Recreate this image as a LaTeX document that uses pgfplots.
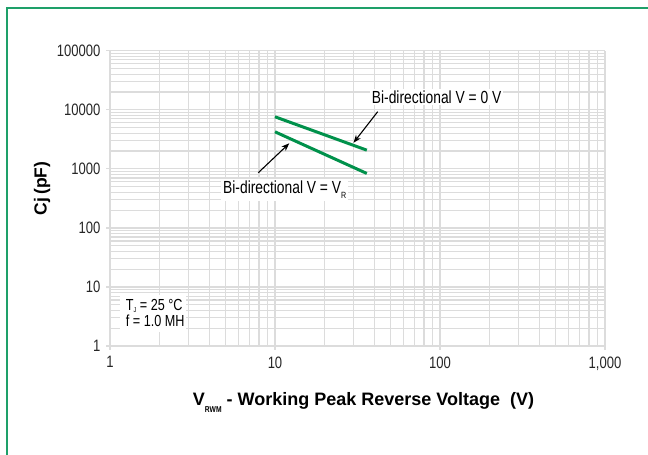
\documentclass[border=0pt]{standalone}
\usepackage{pgfplots}
\pgfplotsset{compat=1.18}
\usepackage{fontspec}
\setmainfont{Liberation Sans}
\newfontfamily\condfont[FakeStretch=0.79]{Liberation Sans}
\usetikzlibrary{arrows.meta}
\definecolor{framegreen}{RGB}{30,160,105}
\definecolor{linegreen}{RGB}{0,145,75}
\definecolor{gridgray}{RGB}{220,220,220}
\begin{document}
\begin{tikzpicture}[x=1pt,y=1pt]
\useasboundingbox (0,0) rectangle (648,455);
\clip (0,0) rectangle (648,455);
\fill[white] (0,0) rectangle (648,455);
\draw[framegreen, line width=2pt] (6.5,446.5) rectangle (720,-60);
\begin{axis}[
  at={(110pt,109pt)}, anchor=south west, scale only axis,
  width=495pt, height=295.3pt,
  xmode=log, ymode=log,
  xmin=1, xmax=1000, ymin=1, ymax=100000,
  xtick={1,10,100,1000}, xticklabels={1,10,100,{1,000}},
  ytick={1,10,100,1000,10000,100000}, yticklabels={1,10,100,1000,10000,100000},
  grid=both,
  major grid style={draw=gridgray, line width=1.3pt},
  minor grid style={draw=gridgray, line width=1.1pt},
  axis line style={draw=none},
  tick align=outside, major tick length=4pt, minor tick length=0pt,
  tick style={draw=gridgray, line width=1.3pt},
  xtick pos=bottom, ytick pos=left,
  ticklabel style={font=\condfont\fontsize{16.5}{17}\selectfont, text=black!85},
  xticklabel style={yshift=-3pt},
  yticklabel style={xshift=-2pt},
]
\addplot[linegreen, line width=3pt] coordinates {(10,7600) (36,2070)};
\addplot[linegreen, line width=3pt] coordinates {(10,4230) (36,835)};
\end{axis}
% axis labels
\node[rotate=90, font=\bfseries\fontsize{17.5}{18}\selectfont] at (42,266.5) {Cj\,(pF)};
\node[anchor=base, font=\bfseries\fontsize{18}{20}\selectfont] at (363.5,49) {V\raisebox{-7pt}{\condfont\fontsize{8.5}{9}\selectfont RWM} - Working Peak Reverse Voltage\ \ (V)};
% annotations
\node[anchor=base west, fill=white, inner sep=2pt, font=\condfont\fontsize{17.5}{18}\selectfont] at (369.7,351.7) {Bi-directional V = 0 V};
\node[anchor=base west, fill=white, inner sep=2pt, font=\condfont\fontsize{17.5}{18}\selectfont] at (221,261) {Bi-directional V = V\raisebox{-5pt}{\fontsize{9}{9}\selectfont R}};
\draw[-{Stealth[length=8pt,width=6pt]}, line width=1.1pt] (377.7,343.3) -- (353.5,312.2);
\draw[-{Stealth[length=8pt,width=6pt]}, line width=1.1pt] (258.3,282.3) -- (289.3,311.7);
\fill[white] (120,123) rectangle (186,160);
\node[anchor=base west, inner sep=0pt, font=\condfont\fontsize{16}{17}\selectfont] at (125.7,144.5) {T\raisebox{-2.5pt}{\fontsize{7}{7}\selectfont J} = 25 °C};
\node[anchor=base west, inner sep=0pt, font=\condfont\fontsize{16}{17}\selectfont] at (125.7,128.5) {f = 1.0 MH};
\end{tikzpicture}
\end{document}
